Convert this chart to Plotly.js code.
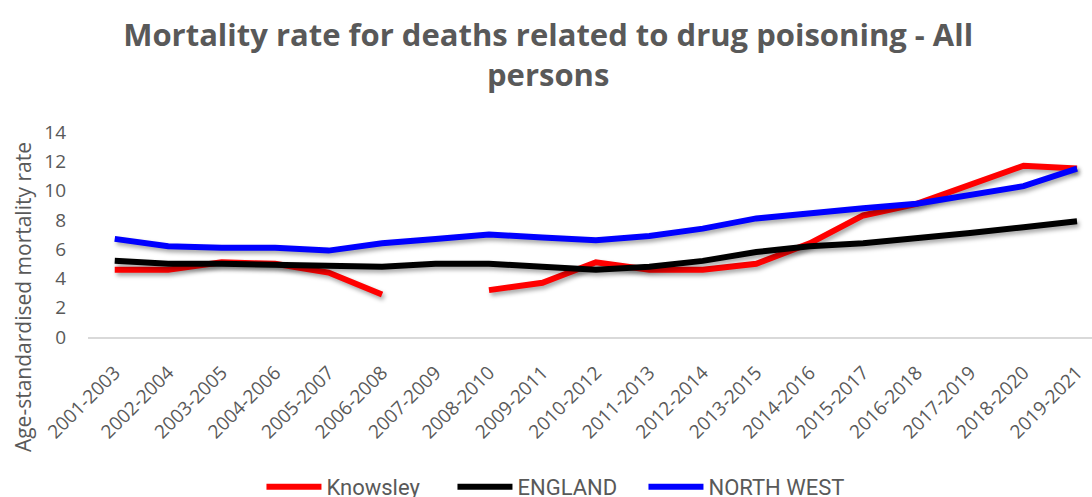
<!DOCTYPE html>
<html>
<head>
<meta charset="utf-8">
<script src="https://cdn.plot.ly/plotly-3.0.1.min.js"></script>
<style>
  html, body { margin: 0; padding: 0; background: #fff; }
  #chart { width: 1092px; height: 497px; }
  /* soft drop shadow under the data lines */
  #chart .scatterlayer .trace path.js-line {
    filter: drop-shadow(2px 3px 2px rgba(0,0,0,0.35));
  }
  /* let the last legend label run past its fixed entry width */
  #chart .legend .scrollbox { clip-path: none !important; }
</style>
</head>
<body>
<div id="chart"></div>
<script>
// Three-year rolling periods
const periods = [
  "2001-2003", "2002-2004", "2003-2005", "2004-2006", "2005-2007",
  "2006-2008", "2007-2009", "2008-2010", "2009-2011", "2010-2012",
  "2011-2013", "2012-2014", "2013-2015", "2014-2016", "2015-2017",
  "2016-2018", "2017-2019", "2018-2020", "2019-2021"
];

// Age-standardised mortality rate per 100,000
const knowsley = [4.6, 4.6, 5.1, 5.0, 4.4, 2.9, null, 3.2, 3.7, 5.1,
                  4.6, 4.6, 5.0, 6.4, 8.3, 9.1, 10.4, 11.7, 11.5];
const england = [5.2, 5.0, 5.0, 4.9, 4.8, 4.8, 5.0, 5.0, 4.8, 4.6,
                 4.8, 5.2, 5.8, 6.2, 6.4, 6.7, 7.1, 7.5, 7.9];
const northWest = [6.7, 6.2, 6.1, 6.1, 5.9, 6.4, 6.7, 7.0, 6.8, 6.6,
                   6.9, 7.4, 8.1, 8.5, 8.8, 9.1, 9.7, 10.3, 11.5];

const yTicks = [0, 2, 4, 6, 8, 10, 12, 14];

const textGrey = "#595959";
const baseFont = "Open Sans, Liberation Sans, sans-serif";

function series(name, values, color) {
  return {
    type: "scatter",
    mode: "lines",
    name: name,
    x: periods,
    y: values,
    connectgaps: false,
    line: { color: color, width: 6 },
    hoverinfo: "x+y+name"
  };
}

const data = [
  series("Knowsley", knowsley, "#ff0000"),
  series("ENGLAND", england, "#000000"),
  series("NORTH WEST", northWest, "#0000ff")
];

const layout = {
  width: 1092,
  height: 497,
  margin: { l: 88, r: 0, t: 132, b: 160, pad: 0 },
  paper_bgcolor: "#ffffff",
  plot_bgcolor: "#ffffff",
  showlegend: true,
  title: {
    text: "<b>Mortality rate for deaths related to drug poisoning - All<br>persons</b>",
    font: { family: baseFont, size: 31, color: textGrey },
    x: 0.502,
    xanchor: "center",
    yref: "container",
    y: 0.908,
    yanchor: "top"
  },
  xaxis: {
    type: "category",
    range: [-0.5, 18.28],
    showgrid: false,
    zeroline: false,
    showline: true,
    linecolor: "#d9d9d9",
    linewidth: 2,
    ticks: "",
    tickangle: -45,
    ticklabelstandoff: 15,
    tickfont: { family: baseFont, size: 19, color: textGrey },
    fixedrange: true
  },
  yaxis: {
    range: [0, 14],
    tickvals: yTicks,
    ticktext: yTicks.map(String),
    showgrid: false,
    zeroline: false,
    showline: false,
    ticks: "",
    ticklabelstandoff: 21,
    tickfont: { family: baseFont, size: 19, color: textGrey },
    fixedrange: true
  },
  annotations: [{
    // vertical axis title, centred on the axis plus its category labels
    text: "Age-standardised mortality rate",
    textangle: -90,
    xref: "paper",
    yref: "paper",
    x: -0.0647,
    y: 0.195,
    xanchor: "center",
    yanchor: "middle",
    showarrow: false,
    font: { family: baseFont, size: 21, color: textGrey }
  }],
  legend: {
    orientation: "h",
    xref: "container",
    yref: "container",
    x: 0.5018,
    xanchor: "center",
    y: 0.02,
    yanchor: "middle",
    itemwidth: 55,
    entrywidth: 121,
    font: { family: "Roboto, Open Sans, sans-serif", size: 22, color: textGrey },
    bgcolor: "rgba(0,0,0,0)"
  }
};

Plotly.newPlot("chart", data, layout, { displayModeBar: false, staticPlot: true });
</script>
</body>
</html>
